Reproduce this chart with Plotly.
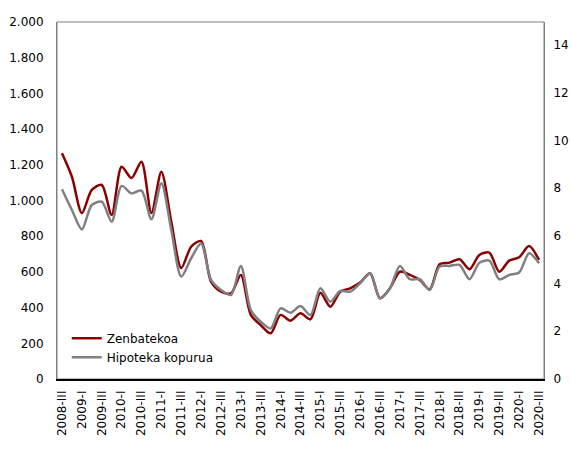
import plotly.graph_objects as go

roman = ["I", "II", "III", "IV"]
quarters = []
for y in range(2008, 2021):
    for q in range(4):
        quarters.append(f"{y}-{roman[q]}")
quarters = quarters[2:2 + 49]  # 2008-III .. 2020-III

zenbatekoa = [1265, 1133, 930, 1059, 1087, 919, 1189, 1126, 1217, 930,
              1161, 881, 622, 741, 773, 545, 489, 480, 583, 359,
              302, 256, 359, 327, 368, 334, 483, 405, 489, 508,
              540, 592, 452, 508, 601, 583, 555, 502, 643, 652,
              671, 615, 695, 708, 601, 663, 682, 745, 667]

hipoteka = [7.95, 7.08, 6.27, 7.29, 7.43, 6.59, 8.09, 7.78, 7.89, 6.69,
            8.20, 6.24, 4.29, 5.06, 5.68, 4.15, 3.73, 3.52, 4.74, 2.89,
            2.40, 2.12, 2.96, 2.78, 3.06, 2.68, 3.80, 3.24, 3.69, 3.66,
            4.01, 4.43, 3.38, 3.80, 4.74, 4.18, 4.18, 3.73, 4.71, 4.74,
            4.78, 4.18, 4.87, 4.96, 4.18, 4.36, 4.46, 5.27, 4.85]

tick_labels = quarters[::2]

font = dict(family="DejaVu Sans, Verdana, sans-serif", size=12, color="#000000")
clear = "rgba(0,0,0,0)"

fig = go.Figure()
fig.add_trace(go.Scatter(x=quarters, y=zenbatekoa, name="Zenbatekoa", mode="lines",
                         line=dict(color="#8B0000", width=2.5, shape="spline", smoothing=0.8)))
fig.add_trace(go.Scatter(x=quarters, y=hipoteka, name="Hipoteka kopurua", mode="lines",
                         yaxis="y2",
                         line=dict(color="#808080", width=2.5, shape="spline", smoothing=0.8)))

fig.add_shape(type="rect", xref="paper", yref="paper", x0=0, x1=1, y0=0, y1=1,
              line=dict(color="#808080", width=1), layer="below")

fig.update_layout(
    width=571, height=451,
    margin=dict(l=57, r=27, t=22, b=72, autoexpand=False),
    paper_bgcolor="white", plot_bgcolor="white",
    font=font,
    separators=",.",
    showlegend=True,
    legend=dict(x=0.02, y=0.155, xanchor="left", yanchor="top",
                bgcolor=clear, font=dict(size=12), tracegroupgap=0,
                itemwidth=30),
    xaxis=dict(type="category", categoryorder="array", categoryarray=quarters,
               range=[-0.5, 48.5], tickmode="array", tickvals=tick_labels,
               ticktext=tick_labels, tickangle=-90, showgrid=False,
               showline=True, linecolor="#000000", linewidth=1.5,
               ticks="outside", ticklen=5, tickcolor=clear,
               zeroline=False, tickfont=dict(size=12), automargin=False),
    yaxis=dict(range=[0, 2000], dtick=200, tickformat=",", showgrid=False,
               showline=True, linecolor="#808080", linewidth=1, zeroline=False,
               ticks="outside", ticklen=10, tickcolor=clear,
               tickfont=dict(size=12), automargin=False),
    yaxis2=dict(range=[0, 14.96], tickvals=[0, 2, 4, 6, 8, 10, 12, 14],
                overlaying="y", side="right", showgrid=False,
                showline=True, linecolor="#808080", linewidth=1, zeroline=False,
                ticks="outside", ticklen=6, tickcolor=clear,
                tickfont=dict(size=12), automargin=False),
)

fig.write_html("out.html")
